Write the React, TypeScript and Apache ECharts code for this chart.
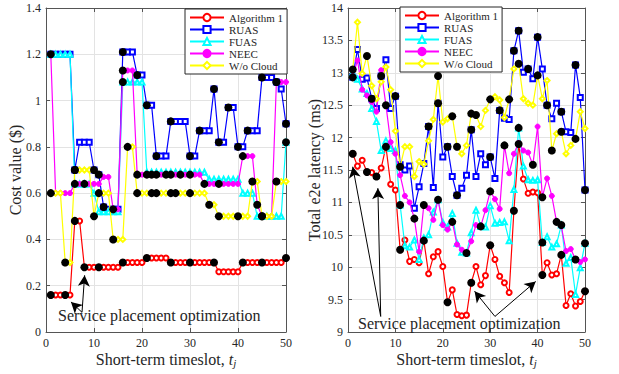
import React, { useEffect, useRef } from "react";
import * as echarts from "echarts";

const seriesNames = ["Algorithm 1", "RUAS", "FUAS", "NEEC", "W/o Cloud"];
const seriesColors = ["#ff0000", "#0000ff", "#00ffff", "#ff00ff", "#ffff00"];
const seriesSymbols = ["emptyCircle", "emptyRect", "emptyTriangle", "circle", "emptyDiamond"];
const xTicks = [0, 10, 20, 30, 40, 50];

// ---- Left chart: cost value ($), timeslots 1..50 ----
const costAlg1 = [0.16, 0.16, 0.16, 0.16, 0.16, 0.48, 0.48, 0.28, 0.28, 0.28, 0.28, 0.28, 0.28, 0.28, 0.28, 0.30, 0.30, 0.30, 0.30, 0.30, 0.32, 0.32, 0.32, 0.32, 0.32, 0.30, 0.30, 0.30, 0.30, 0.30, 0.30, 0.30, 0.30, 0.30, 0.30, 0.26, 0.26, 0.26, 0.26, 0.26, 0.30, 0.30, 0.30, 0.30, 0.30, 0.30, 0.30, 0.30, 0.30, 0.32];
const costRUAS = [1.2, 1.2, 1.2, 1.2, 1.2, 0.70, 0.82, 0.82, 0.82, 0.70, 0.68, 0.54, 0.53, 0.53, 0.53, 1.21, 1.21, 1.21, 1.11, 1.11, 0.98, 0.98, 0.76, 0.76, 0.76, 0.91, 0.91, 0.91, 0.91, 0.76, 0.76, 0.87, 0.87, 0.87, 1.05, 0.82, 0.82, 0.97, 0.97, 0.80, 0.80, 0.87, 0.87, 0.87, 1.10, 1.10, 1.10, 1.08, 1.05, 0.90];
const costFUAS = [1.2, 1.2, 1.2, 1.2, 1.2, 0.64, 0.64, 0.64, 0.64, 0.60, 0.52, 0.52, 0.52, 0.52, 0.52, 1.08, 1.08, 1.08, 1.08, 1.08, 0.69, 0.69, 0.69, 0.69, 0.69, 0.69, 0.69, 0.69, 0.69, 0.69, 0.69, 0.69, 0.69, 0.66, 0.66, 0.66, 0.66, 0.66, 0.66, 0.66, 0.60, 0.60, 0.60, 0.50, 0.50, 0.50, 0.50, 0.50, 0.50, 0.82];
const costNEEC = [1.2, 0.60, 0.60, 0.60, 0.60, 0.64, 0.64, 0.64, 0.64, 0.64, 0.64, 0.67, 0.67, 0.53, 0.53, 1.13, 1.13, 1.13, 0.68, 0.68, 0.68, 0.68, 0.68, 0.68, 0.68, 0.68, 0.68, 0.68, 0.68, 0.68, 0.68, 0.68, 0.64, 0.64, 0.64, 0.64, 0.64, 0.64, 0.64, 0.64, 0.76, 0.76, 0.76, 0.55, 0.50, 0.50, 0.50, 1.08, 1.08, 1.08];
const costWoCloud = [0.60, 0.60, 0.60, 0.30, 0.30, 0.70, 0.70, 0.70, 0.70, 0.50, 0.60, 0.60, 0.60, 0.40, 0.40, 0.40, 0.80, 0.80, 0.60, 0.60, 0.60, 0.60, 0.60, 0.60, 0.60, 0.60, 0.60, 0.60, 0.60, 0.60, 0.60, 0.60, 0.60, 0.55, 0.55, 0.50, 0.50, 0.50, 0.50, 0.50, 0.50, 0.50, 0.65, 0.65, 0.50, 0.50, 0.50, 0.65, 0.65, 0.65];
// timeslots where the placement is re-optimized (black dots)
const costMarksAlg1 = [1, 4, 6, 8, 11, 16, 21, 26, 30, 35, 41, 45, 50];
const costMarksRUAS = [1, 6, 10, 11, 12, 16, 19, 21, 23, 26, 30, 32, 35, 36, 38, 40, 42, 45, 48, 50];
const costMarksFUAS = [16, 50];
const costMarksNEEC = [6, 8, 14, 16, 19, 21, 22, 23, 25, 26, 28, 30, 33, 36, 41, 44, 45, 48];
const costMarksWoCloud = [1, 4, 6, 10, 11, 14, 17, 19, 22, 23, 26, 27, 30, 34, 36, 40, 43, 45, 48];

// ---- Right chart: total e2e latency (ms) ----
const latAlg1 = [11.75, 11.56, 11.65, 11.47, 11.46, 11.40, 11.53, 11.86, 11.28, 11.19, 10.27, 10.42, 10.09, 10.12, 10.07, 10.41, 9.90, 10.16, 10.24, 10.01, 9.46, 9.65, 9.27, 9.25, 9.26, 9.76, 10.01, 9.73, 9.87, 10.34, 10.12, 9.86, 9.76, 9.61, 10.87, 11.90, 11.36, 11.14, 11.16, 11.15, 9.88, 10.07, 9.88, 9.90, 10.19, 9.41, 9.59, 9.40, 9.47, 9.63];
const latRUAS = [12.93, 13.36, 12.90, 12.92, 12.60, 12.45, 12.95, 13.20, 12.45, 12.64, 11.58, 11.50, 11.56, 10.91, 11.24, 11.60, 12.17, 11.23, 12.53, 11.70, 11.86, 11.40, 11.11, 11.22, 11.42, 12.12, 11.40, 11.75, 11.58, 11.70, 11.37, 12.42, 12.30, 12.28, 13.34, 13.65, 13.01, 13.06, 12.91, 13.55, 13.06, 12.50, 12.29, 12.53, 12.40, 12.09, 12.08, 13.12, 12.62, 11.19];
const latFUAS = [13.00, 12.90, 12.75, 12.68, 12.45, 12.25, 11.80, 11.95, 11.83, 11.80, 10.96, 10.33, 10.31, 10.42, 10.12, 10.45, 10.50, 10.85, 11.04, 10.69, 10.62, 10.83, 10.37, 10.23, 10.22, 10.53, 10.88, 10.63, 10.62, 10.95, 10.68, 10.69, 10.70, 10.41, 11.20, 12.15, 11.56, 11.35, 11.34, 11.35, 10.38, 10.47, 10.31, 10.36, 10.65, 10.06, 10.15, 9.58, 9.99, 10.37];
const latNEEC = [12.95, 13.19, 12.74, 12.65, 12.55, 12.40, 13.04, 12.50, 11.93, 11.75, 11.42, 11.10, 11.00, 10.75, 10.24, 10.96, 10.91, 10.73, 11.04, 10.65, 10.58, 10.70, 10.35, 10.27, 10.22, 10.40, 10.65, 10.63, 10.88, 11.17, 11.05, 10.90, 11.88, 11.45, 11.75, 11.92, 11.80, 11.77, 11.58, 12.17, 11.08, 11.37, 11.10, 10.70, 10.63, 10.25, 10.28, 10.12, 10.08, 10.12];
const latWoCloud = [13.05, 13.78, 12.99, 13.26, 12.80, 12.60, 12.86, 13.09, 12.74, 12.10, 11.55, 11.86, 11.86, 11.40, 11.63, 11.59, 11.95, 12.28, 12.95, 12.24, 12.29, 12.33, 11.86, 11.75, 11.88, 12.37, 12.35, 12.17, 12.42, 12.59, 12.63, 12.58, 12.31, 12.59, 13.06, 13.14, 12.60, 12.53, 12.50, 12.96, 12.60, 12.88, 11.80, 12.06, 12.09, 11.75, 11.88, 11.98, 12.40, 12.14];
const latMarksAlg1 = [1, 4, 6, 8, 11, 16, 21, 26, 30, 35, 36, 41, 45, 50];
const latMarksRUAS = [1, 5, 7, 10, 17, 19, 21, 23, 26, 30, 32, 35, 36, 38, 40, 42, 45, 48, 50];
const latMarksFUAS = [11, 36, 41, 45, 50];
const latMarksNEEC = [8, 14, 16, 19, 22, 25, 28, 30, 33, 39, 41, 44, 48];
const latMarksWoCloud = [1, 4, 11, 19, 22, 23, 26, 27, 30, 34, 36, 40, 43, 45, 48];

// annotation arrows, in data units [t, value] : [tail, head]
const costArrows = [
  [[7.5, 0.085], [5.2, 0.13]],
  [[7.5, 0.085], [8.05, 0.245]],
];
const latArrows = [
  [[6.9, 9.24], [1.0, 11.55]],
  [[6.9, 9.24], [6.3, 11.22]],
  [[31.0, 9.24], [26.7, 9.63]],
  [[31.0, 9.24], [39.6, 9.78]],
];

const FONT = "Liberation Serif, Times New Roman, serif";
const TXT = "#262626";
const AX = "#555555";

function toPts(vals: number[]) {
  return vals.map((v, i) => [i + 1, v]);
}
function marksFrom(vals: number[], marks: number[]) {
  return marks.map((t) => [t, vals[t - 1]]);
}

export default function App() {
  const ref = useRef<HTMLDivElement>(null);
  useEffect(() => {
    if (!ref.current) return;
    const chart = echarts.init(ref.current, undefined, { renderer: "svg" });
    const costSets = [costAlg1, costRUAS, costFUAS, costNEEC, costWoCloud];
    const latSets = [latAlg1, latRUAS, latFUAS, latNEEC, latWoCloud];
    const costMarks = [costMarksAlg1, costMarksRUAS, costMarksFUAS, costMarksNEEC, costMarksWoCloud];
    const latMarks = [latMarksAlg1, latMarksRUAS, latMarksFUAS, latMarksNEEC, latMarksWoCloud];

    const grids = [
      { left: 46, right: 333, top: 8, bottom: 42 },
      { left: 348, right: 34, top: 8, bottom: 42 },
    ];
    const xName = "Short-term timeslot, {i|t}{s|j}";
    const nameRich = {
      i: { fontFamily: FONT, fontStyle: "italic", fontSize: 16, color: TXT },
      s: { fontFamily: FONT, fontStyle: "italic", fontSize: 11, color: TXT, verticalAlign: "bottom", padding: [6, 0, 0, 0] },
    };
    const baseX = (gi: number, pos: string) => ({
      type: "value",
      gridIndex: gi,
      position: pos,
      min: 0,
      max: 50,
      interval: 10,
      axisLine: { show: true, onZero: false, lineStyle: { color: AX, width: 1 } },
      axisTick: { show: true, inside: true, length: 4, lineStyle: { color: AX } },
      axisLabel: pos === "bottom"
        ? { show: true, color: TXT, fontFamily: FONT, fontSize: 12, margin: 5 }
        : { show: false },
      splitLine: { show: pos === "bottom", lineStyle: { color: "#e3e3e3", width: 1 } },
      name: pos === "bottom" ? xName : "",
      nameLocation: "middle",
      nameGap: 19,
      nameMoveOverlap: false,
      nameTextStyle: { fontFamily: FONT, fontSize: 16, color: TXT, rich: nameRich },
    });
    const baseY = (gi: number, pos: string, min: number, max: number, interval: number, name: string, gap: number) => ({
      type: "value",
      gridIndex: gi,
      position: pos,
      min,
      max,
      interval,
      axisLine: { show: true, onZero: false, lineStyle: { color: AX, width: 1 } },
      axisTick: { show: true, inside: true, length: 4, lineStyle: { color: AX } },
      axisLabel: pos === "left"
        ? { show: true, color: TXT, fontFamily: FONT, fontSize: 12, margin: 5 }
        : { show: false },
      splitLine: { show: pos === "left", lineStyle: { color: "#e3e3e3", width: 1 } },
      name: pos === "left" ? name : "",
      nameLocation: "middle",
      nameGap: gap,
      nameMoveOverlap: false,
      nameTextStyle: { fontFamily: FONT, fontSize: 16, color: TXT },
    });

    const series: any[] = [];
    const addPanel = (sets: number[][], marks: number[][], xi: number, yi: number, arrows: number[][][]) => {
      sets.forEach((vals, k) => {
        series.push({
          type: "line",
          name: seriesNames[k],
          xAxisIndex: xi,
          yAxisIndex: yi,
          data: toPts(vals),
          symbol: seriesSymbols[k],
          symbolSize: 5,
          showSymbol: true,
          showAllSymbol: true,
          lineStyle: { color: seriesColors[k], width: 1.2 },
          itemStyle: { color: seriesColors[k], borderColor: seriesColors[k], borderWidth: 1 },
          z: 2 + k,
          markLine: k === 0
            ? {
                silent: true,
                symbol: ["none", "arrow"],
                symbolSize: [9, 11],
                label: { show: false },
                lineStyle: { color: "#000", width: 1, type: "solid" },
                data: arrows.map((a) => [{ coord: a[0] }, { coord: a[1] }]),
              }
            : undefined,
        });
      });
      const dots: number[][] = [];
      sets.forEach((vals, k) => marksFrom(vals, marks[k]).forEach((p) => dots.push(p)));
      series.push({
        type: "scatter",
        name: "marks",
        xAxisIndex: xi,
        yAxisIndex: yi,
        data: dots,
        symbol: "circle",
        symbolSize: 8,
        itemStyle: { color: "#000", opacity: 1 },
        z: 10,
        silent: true,
      });
    };
    addPanel(costSets, costMarks, 0, 0, costArrows);
    addPanel(latSets, latMarks, 1, 1, latArrows);

    const legendBase = {
      orient: "vertical",
      backgroundColor: "#ffffff",
      borderColor: "#262626",
      borderWidth: 1,
      borderRadius: 0,
      padding: [3, 4, 3, 4],
      itemWidth: 34,
      itemHeight: 9,
      itemGap: 1,
      textStyle: { fontFamily: FONT, fontSize: 11, lineHeight: 11, color: TXT },
      data: seriesNames,
      selectedMode: false,
    };

    chart.setOption({
      animation: false,
      backgroundColor: "#ffffff",
      grid: grids,
      xAxis: [baseX(0, "bottom"), baseX(1, "bottom"), baseX(0, "top"), baseX(1, "top")],
      yAxis: [
        baseY(0, "left", 0, 1.4, 0.2, "Cost value ($)", 23),
        baseY(1, "left", 9, 14, 0.5, "Total e2e latency (ms)", 26),
        baseY(0, "right", 0, 1.4, 0.2, "", 0),
        baseY(1, "right", 9, 14, 0.5, "", 0),
      ],
      legend: [
        { ...legendBase, left: 185, top: 9 },
        { ...legendBase, left: 400, top: 7 },
      ],
      series,
      graphic: [
        {
          type: "text",
          left: 58,
          top: 307,
          z: 100,
          style: { text: "Service placement optimization", font: `16px ${FONT}`, fill: TXT },
        },
        {
          type: "text",
          left: 358,
          top: 315,
          z: 100,
          style: { text: "Service placement optimization", font: `16px ${FONT}`, fill: TXT },
        },
      ],
    });
    return () => chart.dispose();
  }, []);
  return (
    <div
      ref={ref}
      style={{ position: "fixed", left: 0, top: 0, width: 619, height: 374, background: "#fff" }}
    />
  );
}
